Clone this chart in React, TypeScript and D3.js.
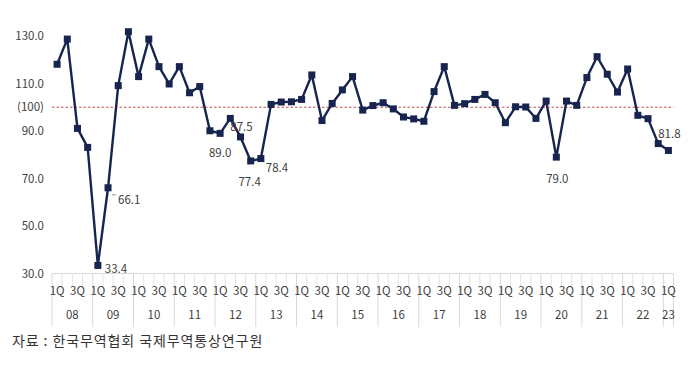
import React from "react";
import * as d3 from "d3";

const years = ["08","09","10","11","12","13","14","15","16","17","18","19","20","21","22","23"];
const quarterNames = ["1Q", "2Q", "3Q", "4Q"];
const values = [
  118.1, 128.7, 91.1, 83.1,
  33.4, 66.1, 109.1, 131.8,
  112.9, 128.7, 117.1, 109.8,
  117.1, 106.1, 108.7, 90.1,
  89.0, 95.3, 87.5, 77.4,
  78.4, 101.2, 102.2, 102.3,
  103.3, 113.6, 94.4, 101.6,
  107.3, 112.9, 98.8, 100.7,
  101.9, 99.3, 95.9, 95.1,
  94.1, 106.6, 117.1, 100.8,
  101.5, 103.3, 105.4, 101.9,
  93.5, 100.2, 100.1, 95.3,
  102.6, 79.0, 102.6, 100.8,
  112.5, 121.3, 113.9, 106.4,
  116.1, 96.6, 95.2, 84.7,
  81.8,
];
const yTicks = [130, 110, 100, 90, 70, 50, 30];
const yTickText = ["130.0", "110.0", "(100)", "90.0", "70.0", "50.0", "30.0"];
const labelIndex = [4, 5, 16, 18, 19, 20, 49, 60];
const labelText = ["33.4", "66.1", "89.0", "87.5", "77.4", "78.4", "79.0", "81.8"];
const baseline = 100;
const sourceText = "자료 : 한국무역협회 국제무역통상연구원";

const categories = values.map((_, i) => `${years[Math.floor(i / 4)]}-${quarterNames[i % 4]}`);

export default function App() {
  const W = 700, H = 365;
  const left = 52, right = 673.5, top = 36, bottom = 273.5;
  const x = d3.scaleBand<string>().domain(categories).range([left, right]).padding(0);
  const y = d3.scaleLinear().domain([30, 130]).range([bottom, top]);
  const cx = (i: number) => (x(categories[i]) as number) + x.bandwidth() / 2;
  const line = d3.line<number>().x((_, i) => cx(i)).y((d) => y(d));
  const font = "'Noto Sans CJK KR', 'Noto Sans', sans-serif";
  const navy = "#16244f";
  const txt = "#404040";

  // label placement (style): dx, dy, anchor
  const place: Record<number, [number, number, string]> = {
    4: [7, 4, "start"],
    5: [10, 12, "start"],
    16: [0, 20, "middle"],
    18: [1, -10, "middle"],
    19: [-1, 21, "middle"],
    20: [5, 9, "start"],
    49: [1, 22, "middle"],
    60: [1, -17, "middle"],
  };

  const boundaries = d3.range(categories.length + 1).map((i) =>
    i < categories.length ? (x(categories[i]) as number) : right
  );

  return (
    <svg width={W} height={H} style={{ position: "absolute", left: 0, top: 0, background: "#fff" }}>
      <rect x={0} y={0} width={W} height={H} fill="#fff" />
      {yTicks.map((t, i) => (
        <text key={t} x={44} y={y(t)} dy="0.35em" textAnchor="end" fontFamily={font} fontSize={11.5} fill={txt}>
          {yTickText[i]}
        </text>
      ))}
      <line x1={left} x2={right} y1={y(baseline)} y2={y(baseline)} stroke="#c0504d" strokeWidth={1} strokeDasharray="2.5,2" />
      <line x1={left} x2={right} y1={bottom} y2={bottom} stroke="#d9d9d9" strokeWidth={1} />
      {boundaries.map((bx, i) => {
        const isYear = i % 4 === 0 || i === categories.length;
        return (
          <line key={i} x1={bx} x2={bx} y1={bottom} y2={isYear ? 327 : 287} stroke={isYear ? "#d9d9d9" : "#e3e3e3"} strokeWidth={1} />
        );
      })}
      {categories.map((c, i) =>
        i % 2 === 0 ? (
          <text key={c} x={cx(i)} y={291} dy="0.35em" textAnchor="middle" fontFamily={font} fontSize={11.5} fill={txt}>
            {quarterNames[i % 4]}
          </text>
        ) : null
      )}
      {years.map((yr, k) => {
        const i0 = k * 4;
        const i1 = Math.min(k * 4 + 3, categories.length - 1);
        return (
          <text key={yr} x={(cx(i0) + cx(i1)) / 2} y={315} dy="0.35em" textAnchor="middle" fontFamily={font} fontSize={11.5} fill={txt}>
            {yr}
          </text>
        );
      })}
      <path d={line(values) as string} fill="none" stroke={navy} strokeWidth={2.4} strokeLinejoin="round" />
      {values.map((v, i) => (
        <rect key={i} x={cx(i) - 3.5} y={y(v) - 3.5} width={7} height={7} fill={navy} />
      ))}
      <line x1={cx(5) + 4} x2={cx(5) + 8} y1={y(values[5]) + 7} y2={y(values[5]) + 7} stroke="#999" strokeWidth={1} />
      {labelIndex.map((idx, k) => {
        const [dx, dy, anchor] = place[idx];
        return (
          <text key={idx} x={cx(idx) + dx} y={y(values[idx]) + dy} dy="0.35em" textAnchor={anchor as any} fontFamily={font} fontSize={11.5} fill={txt}>
            {labelText[k]}
          </text>
        );
      })}
      <text x={12} y={341} dy="0.35em" fontFamily={font} fontSize={14} letterSpacing={0.9} fill="#333">
        {sourceText}
      </text>
    </svg>
  );
}
